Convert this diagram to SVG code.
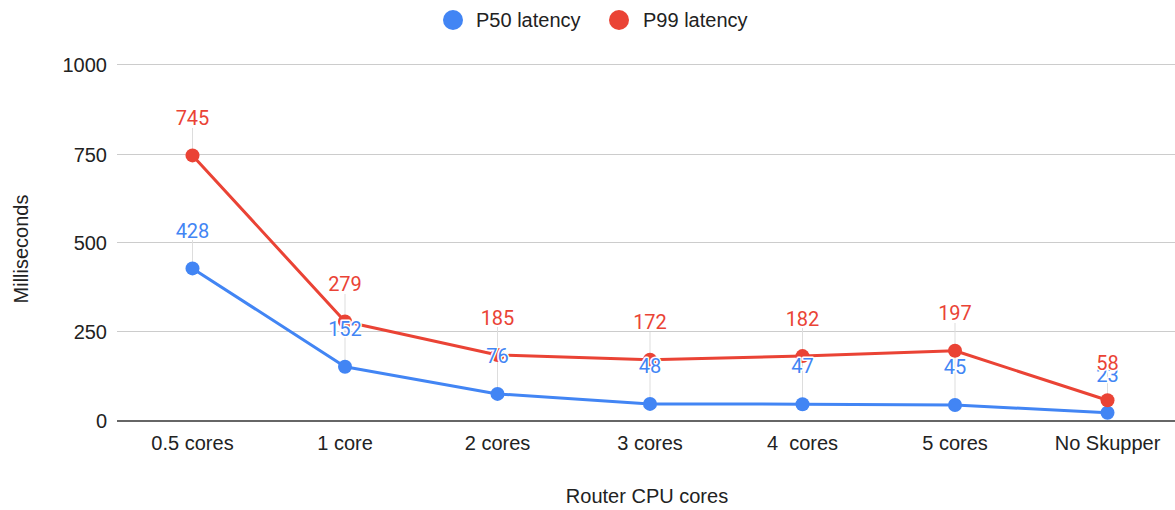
<svg xmlns="http://www.w3.org/2000/svg" width="1175" height="510" viewBox="0 0 1175 510">
  <style>
    .txt { font-family: "Liberation Sans", Arial, sans-serif; font-size: 20px; fill: #222; }
    .tick { text-anchor: end; }
    .cat { text-anchor: middle; }
    .grid { stroke: #ccc; stroke-width: 1; }
    .lead { stroke: #ddd; stroke-width: 1; }
    .lbl { font-family: Roboto, "Liberation Sans", sans-serif; font-size: 20px; text-anchor: middle; stroke: #fff; stroke-width: 3; paint-order: stroke; stroke-linejoin: round; }
    .p50 { fill: #4285f4; }
    .p99 { fill: #ea4335; }
    .line { fill: none; stroke-width: 3; stroke-linejoin: round; }
  </style>
  <rect width="1175" height="510" fill="#fff"/>

  <!-- legend -->
  <g id="legend">
    <circle cx="453" cy="20" r="10" class="p50"/>
    <text x="476" y="27" class="txt">P50 latency</text>
    <circle cx="619" cy="20" r="10" class="p99"/>
    <text x="643" y="27" class="txt">P99 latency</text>
  </g>

  <!-- value axis -->
  <g id="gridlines">
    <line x1="117" y1="64.5" x2="1175" y2="64.5" class="grid"/>
    <line x1="117" y1="154.5" x2="1175" y2="154.5" class="grid"/>
    <line x1="117" y1="242.5" x2="1175" y2="242.5" class="grid"/>
    <line x1="117" y1="331.5" x2="1175" y2="331.5" class="grid"/>
  </g>
  <g id="y-axis">
    <text x="107" y="72" class="txt tick">1000</text>
    <text x="107" y="162" class="txt tick">750</text>
    <text x="107" y="250" class="txt tick">500</text>
    <text x="107" y="339" class="txt tick">250</text>
    <text x="107" y="428" class="txt tick">0</text>
    <text transform="translate(28,249) rotate(-90)" class="txt" text-anchor="middle">Milliseconds</text>
  </g>

  <!-- leader lines from data labels to points -->
  <g id="leaders">
    <line x1="192.5" y1="128" x2="192.5" y2="155" class="lead"/>
    <line x1="192.5" y1="240" x2="192.5" y2="268" class="lead"/>
    <line x1="345" y1="294" x2="345" y2="366" class="lead"/>
    <line x1="497.5" y1="327" x2="497.5" y2="394" class="lead"/>
    <line x1="650" y1="332" x2="650" y2="404" class="lead"/>
    <line x1="802.5" y1="328" x2="802.5" y2="404" class="lead"/>
    <line x1="955" y1="323" x2="955" y2="405" class="lead"/>
    <line x1="1107.5" y1="372" x2="1107.5" y2="413" class="lead"/>
  </g>

  <!-- category axis -->
  <g id="x-axis">
    <line x1="117" y1="421" x2="1175" y2="421" stroke="#333" stroke-width="1.5"/>
    <text x="192.5" y="450" class="txt cat">0.5 cores</text>
    <text x="345" y="450" class="txt cat">1 core</text>
    <text x="497.5" y="450" class="txt cat">2 cores</text>
    <text x="650" y="450" class="txt cat">3 cores</text>
    <text x="802.5" y="450" class="txt cat" xml:space="preserve">4  cores</text>
    <text x="955" y="450" class="txt cat">5 cores</text>
    <text x="1107.5" y="450" class="txt cat">No Skupper</text>
    <text x="647" y="503" class="txt cat">Router CPU cores</text>
  </g>

  <!-- series -->
  <g id="series-p50">
    <polyline class="line" stroke="#4285f4" points="192.5,268.4 345,366.8 497.5,393.9 650,403.9 802.5,404.2 955,405 1107.5,412.8"/>
    <g class="p50">
      <circle cx="192.5" cy="268.4" r="7"/>
      <circle cx="345" cy="366.8" r="7"/>
      <circle cx="497.5" cy="393.9" r="7"/>
      <circle cx="650" cy="403.9" r="7"/>
      <circle cx="802.5" cy="404.2" r="7"/>
      <circle cx="955" cy="405" r="7"/>
      <circle cx="1107.5" cy="412.8" r="7"/>
    </g>
  </g>
  <g id="series-p99">
    <polyline class="line" stroke="#ea4335" points="192.5,155.4 345,321.5 497.5,355 650,359.7 802.5,356.1 955,350.8 1107.5,400.3"/>
    <g class="p99">
      <circle cx="192.5" cy="155.4" r="7"/>
      <circle cx="345" cy="321.5" r="7"/>
      <circle cx="497.5" cy="355" r="7"/>
      <circle cx="650" cy="359.7" r="7"/>
      <circle cx="802.5" cy="356.1" r="7"/>
      <circle cx="955" cy="350.8" r="7"/>
      <circle cx="1107.5" cy="400.3" r="7"/>
    </g>
  </g>

  <!-- data labels -->
  <g id="labels-p50">
    <text x="192.5" y="237.5" class="lbl p50">428</text>
    <text x="345" y="336" class="lbl p50">152</text>
    <text x="497.5" y="363" class="lbl p50">76</text>
    <text x="650" y="373" class="lbl p50">48</text>
    <text x="802.5" y="373" class="lbl p50">47</text>
    <text x="955" y="374" class="lbl p50">45</text>
    <text x="1107.5" y="382" class="lbl p50">23</text>
  </g>
  <g id="labels-p99">
    <text x="192.5" y="125" class="lbl p99">745</text>
    <text x="345" y="291" class="lbl p99">279</text>
    <text x="497.5" y="324.5" class="lbl p99">185</text>
    <text x="650" y="329" class="lbl p99">172</text>
    <text x="802.5" y="325.5" class="lbl p99">182</text>
    <text x="955" y="320" class="lbl p99">197</text>
    <text x="1107.5" y="369.5" class="lbl p99">58</text>
  </g>
</svg>
